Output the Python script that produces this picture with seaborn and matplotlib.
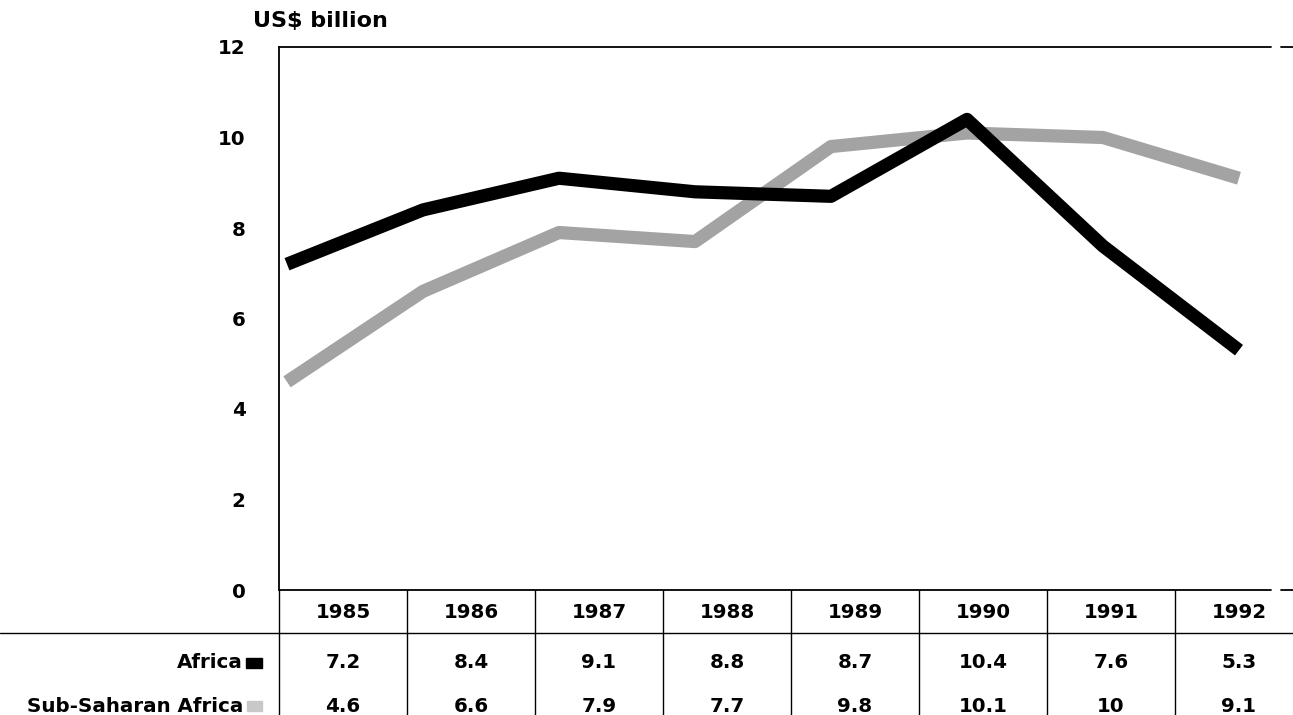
import matplotlib.pyplot as plt
import matplotlib.patches as mpatches
from matplotlib.lines import Line2D
import seaborn as sns
import pandas as pd

# Data
years = [1985, 1986, 1987, 1988, 1989, 1990, 1991, 1992]
africa = [7.2, 8.4, 9.1, 8.8, 8.7, 10.4, 7.6, 5.3]
sub_saharan = [4.6, 6.6, 7.9, 7.7, 9.8, 10.1, 10, 9.1]
series_names = ["Africa", "Sub-Saharan Africa"]
y_ticks = [0, 2, 4, 6, 8, 10, 12]

df = pd.DataFrame({"year": years * 2,
                   "value": africa + sub_saharan,
                   "series": [series_names[0]] * len(years) + [series_names[1]] * len(years)})

sns.set_style("white")
plt.rcParams['font.family'] = ['DejaVu Sans']
plt.rcParams['text.color'] = 'black'
plt.rcParams['ytick.color'] = 'black'
FS = 14.3
FW = "bold"

W, H = 1293, 715
fig = plt.figure(figsize=(W / 100, H / 100), dpi=100)
ax = fig.add_axes([279 / W, 1 - 590 / H, 1 - 279 / W, (590 - 47) / H])

colors = {"Africa": "black", "Sub-Saharan Africa": "#a3a3a3"}
sns.lineplot(data=df, x="year", y="value", hue="series", palette=colors,
             hue_order=series_names[::-1], linewidth=9.5, legend=False, ax=ax,
             solid_capstyle="butt", solid_joinstyle="round")

ax.set_xlim(1985 - 8 / 136, 1985 + 1006 / 136)
ax.set_ylim(0, 12)
ax.set_yticks(y_ticks)
ax.set_yticklabels([str(t) for t in y_ticks], fontsize=FS, fontweight=FW)
ax.tick_params(axis="y", length=0, pad=24)
ax.set_xticks([])
ax.set_xlabel("")
ax.set_ylabel("")
for s in ["top", "bottom", "right"]:
    ax.spines[s].set_visible(False)
ax.spines["left"].set_linewidth(1.3)
ax.spines["left"].set_color("black")

# top and bottom frame lines with the small gap at the right
for yy in [0, 1]:
    ax.plot([0, 0.978], [yy, yy], color="black", lw=1.3, transform=ax.transAxes, clip_on=False)
    ax.plot([0.988, 1.0], [yy, yy], color="black", lw=1.3, transform=ax.transAxes, clip_on=False)

fig.text(253 / W, 1 - 21 / H, "US$ billion", fontsize=16, fontweight=FW, va="center", ha="left")

# data table under the chart
col_w = 128
x0 = 279
def fy(y):
    return 1 - y / H
def fx(x):
    return x / W

fig.add_artist(Line2D([0, 1], [fy(633), fy(633)], color="black", lw=1))
for k in range(len(years) + 1):
    xx = fx(x0 + k * col_w)
    fig.add_artist(Line2D([xx, xx], [fy(590), 0], color="black", lw=1))

for k, yr in enumerate(years):
    cx = fx(x0 + (k + 0.5) * col_w)
    fig.text(cx, fy(612), str(yr), fontsize=FS, fontweight=FW, ha="center", va="center")
    fig.text(cx, fy(663), f"{africa[k]:g}", fontsize=FS, fontweight=FW, ha="center", va="center")
    fig.text(cx, fy(706), f"{sub_saharan[k]:g}", fontsize=FS, fontweight=FW, ha="center", va="center")

fig.text(fx(243), fy(663), series_names[0], fontsize=FS, fontweight=FW, ha="right", va="center")
fig.text(fx(243), fy(706), series_names[1], fontsize=FS, fontweight=FW, ha="right", va="center")
fig.add_artist(mpatches.Rectangle((fx(246), fy(668)), 16 / W, 10 / H, color="black"))
fig.add_artist(mpatches.Rectangle((fx(247), fy(711)), 15 / W, 10 / H, color="#c8c8c8"))

fig.savefig("out.png", dpi=100)
